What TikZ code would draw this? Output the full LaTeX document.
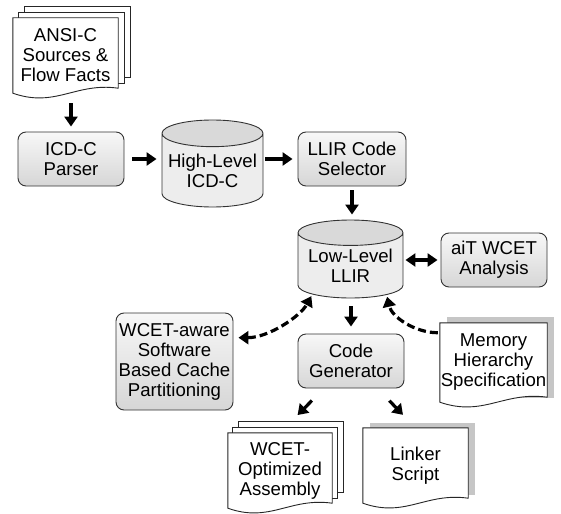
\documentclass[tikz,border=0pt]{standalone}
\usepackage{fontspec}
\setmainfont{Liberation Sans}
\usetikzlibrary{shapes.geometric,arrows.meta,calc,backgrounds}

\begin{document}
\begin{tikzpicture}[x=1pt,y=-1pt,>={Triangle[length=10pt,width=13pt]},
    every node/.style={font=\fontsize{18.6}{20}\selectfont, align=center, inner sep=0pt},
    tool/.style={draw=black!80, line width=0.9pt, rounded corners=8pt,
        top color=gray!6, bottom color=gray!32, minimum width=106pt, minimum height=54pt},
    drum/.style={cylinder, shape border rotate=90, aspect=0.3, draw=black!80, line width=0.9pt,
        cylinder uses custom fill, cylinder body fill=gray!14, cylinder end fill=gray!30},
    paper/.style={minimum width=105pt, minimum height=75pt},
    sheet/.style={draw=black!85, line width=0.9pt, fill=white},
    sheetshade/.style={fill=gray!45},
    arr/.style={line width=3.2pt, ->},
    dasharr/.style={line width=3.2pt, dash pattern=on 8pt off 4pt},
]
    \useasboundingbox (0,0) rectangle (561,513);

    % Front end
    \node[paper] (src) at (65.5,55.5) {ANSI-C\\Sources \&\\Flow Facts};
    \node[tool] (parser) at (71,159) {ICD-C\\Parser};
    \node[drum, minimum width=101pt, minimum height=87pt, anchor=shape center] (hl) at (212.5,163.5) {High-Level\\ICD-C};
    \node[tool, minimum width=108pt] (sel) at (352,159) {LLIR Code\\Selector};

    % Back end
    \node[drum, minimum width=105pt, minimum height=78pt, anchor=shape center] (llir) at (350.5,259) {Low-Level\\LLIR};
    \node[tool] (ait) at (494,260) {aiT WCET\\Analysis};
    \node[tool] (gen) at (351,361) {Code\\Generator};
    \node[tool, minimum width=117pt, minimum height=97pt] (wca) at (174.5,361.5) {WCET-aware\\Software\\Based Cache\\Partitioning};
    \node[paper, minimum width=107pt, minimum height=79pt] (mem) at (493.5,362.5) {Memory\\Hierarchy\\Specification};

    % Output files
    \node[paper, minimum width=104pt] (asm) at (280,470.5) {WCET-\\Optimized\\Assembly};
    \node[paper] (lnk) at (415.5,465.5) {Linker\\Script};

    \begin{pgfonlayer}{background}
        % sources, stack of sheets
        \draw[sheet] ($(src.north west)+(12,-11)$) rectangle ($(src.south east)+(12,-16)$);
        \draw[sheet] ($(src.north west)+(6,-5)$) rectangle ($(src.south east)+(6,-10)$);
        \draw[sheet] (src.north west) -- (src.north east) -- ($(src.south east)+(0,-5)$)
            .. controls ($(src.south)+(10,-11)$) and ($(src.south)+(-10,15)$) .. (src.south west) -- cycle;

        % memory hierarchy sheet
        \fill[sheetshade] ($(mem.north west)+(7,-6)$) rectangle ($(mem.south east)+(7,-4)$);
        \draw[sheet] (mem.north west) -- (mem.north east) -- ($(mem.south east)+(0,-5)$)
            .. controls ($(mem.south)+(10,-11)$) and ($(mem.south)+(-10,15)$) .. (mem.south west) -- cycle;

        % assembly, stack of sheets
        \draw[sheet] ($(asm.north west)+(11,-11)$) rectangle ($(asm.south east)+(11,-16)$);
        \draw[sheet] ($(asm.north west)+(5,-5)$) rectangle ($(asm.south east)+(5,-10)$);
        \draw[sheet] (asm.north west) -- (asm.north east) -- ($(asm.south east)+(0,-5)$)
            .. controls ($(asm.south)+(10,-11)$) and ($(asm.south)+(-10,15)$) .. (asm.south west) -- cycle;

        % linker script sheet
        \fill[sheetshade] ($(lnk.north west)+(7,-5)$) rectangle ($(lnk.south east)+(7,-8)$);
        \draw[sheet] (lnk.north west) -- (lnk.north east) -- ($(lnk.south east)+(0,-5)$)
            .. controls ($(lnk.south)+(10,-11)$) and ($(lnk.south)+(-10,15)$) .. (lnk.south west) -- cycle;
    \end{pgfonlayer}

    % Flow
    \draw[arr, shorten <=10pt, shorten >=5pt] (src.south -| parser.north) -- (parser.north);
    \draw[arr, shorten <=8pt, shorten >=5pt] (parser.east) -- (parser.east -| hl.180);
    \draw[arr, shorten <=2pt, shorten >=5pt] (sel.west -| hl.0) -- (sel.west);
    \draw[arr, shorten <=4pt, shorten >=5pt] (sel.south) -- (sel.south |- llir.90);
    \draw[arr, <->, shorten <=2pt, shorten >=3pt] (ait.west -| llir.0) -- (ait.west);
    \draw[arr, shorten <=8pt, shorten >=7pt] (gen.north |- llir.270) -- (gen.north);
    \draw[arr, shorten <=17pt, shorten >=25pt] (gen) -- (asm.north);
    \draw[arr, shorten <=17pt, shorten >=18pt] (gen) -- (lnk.north);

    % Dashed links
    \draw[dasharr, <->, shorten <=5pt, shorten >=2pt] (wca.22) .. controls +(35,0) and +(-12,22) .. (llir.-143);
    \draw[dasharr, ->, shorten <=2pt, shorten >=2pt] (mem.151) .. controls +(-25,0) and +(5,22) .. (llir.-39);

\end{tikzpicture}
\end{document}
